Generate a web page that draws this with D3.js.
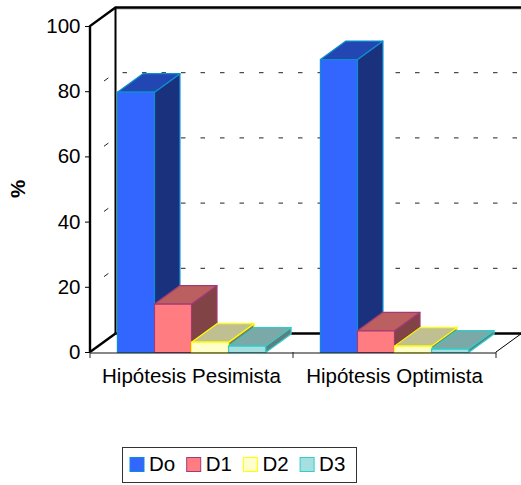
<!DOCTYPE html>
<html lang="en">
<head>
    <meta charset="UTF-8">
    <title>Hipótesis</title>
    <script src="https://cdn.jsdelivr.net/npm/d3@7"></script>
    <style>
        html, body { margin: 0; padding: 0; background: #fff; }
        svg { display: block; }
        text { font-family: "Liberation Sans", Arial, sans-serif; fill: #000; }
    </style>
</head>
<body>
    <script>
        // valores
        var categories = ["Hipótesis Pesimista", "Hipótesis Optimista"];
        var seriesNames = ["Do", "D1", "D2", "D3"];
        var doValues = [79.7, 89.7];
        var d1Values = [14.7, 6.5];
        var d2Values = [3, 1.8];
        var d3Values = [1.8, 0.9];
        var yTicks = [0, 20, 40, 60, 80, 100];

        var seriesValues = [doValues, d1Values, d2Values, d3Values];

        // colores: frente, arriba, lado, borde
        var faceColors = ["#3366ff", "#ff7c80", "#ffffcc", "#a5dfdf"];
        var topColors = ["#2347b2", "#bb5f60", "#c0bf92", "#7aa9a7"];
        var sideColors = ["#1a327e", "#814345", "#7f7f66", "#5f7f7f"];
        var edgeColors = ["#0b8fd0", "#a33a78", "#ffff00", "#33cccc"];

        var width = 521;
        var height = 485;
        var depthX = 25.5; // profundidad del 3D
        var depthY = -18.5;

        var svg = d3.select("body")
            .append("svg")
            .attr("width", width)
            .attr("height", height);

        var x = d3.scaleBand().domain(categories).range([90, 496]);
        var y = d3.scaleLinear().domain([0, 100]).range([352, 26]);
        var inner = d3.scaleBand().domain(seriesNames)
            .range([0, x.bandwidth()])
            .paddingInner(0)
            .paddingOuter(0.74);

        function pts(list) {
            return list.map(function (p) { return p.join(","); }).join(" ");
        }

        // lineas de rejilla en la pared del fondo
        yTicks.slice(1, -1).forEach(function (t) {
            svg.append("line")
                .attr("x1", 90 + depthX)
                .attr("x2", 496 + depthX)
                .attr("y1", y(t) + depthY)
                .attr("y2", y(t) + depthY)
                .attr("stroke", "#222")
                .attr("stroke-width", 1)
                .attr("stroke-dasharray", "4.5,15")
                .attr("stroke-dashoffset", -7);
            // pedacito en la pared lateral
            svg.append("line")
                .attr("x1", 90 + depthX * 0.55)
                .attr("x2", 90 + depthX * 0.72)
                .attr("y1", y(t) + depthY * 0.55)
                .attr("y2", y(t) + depthY * 0.72)
                .attr("stroke", "#222");
        });

        // paredes
        var wall = svg.append("g").attr("fill", "none");
        wall.append("path")
            .attr("d", "M" + (90 + depthX) + "," + (y(0) + depthY) + "H" + (496 + depthX))
            .attr("stroke", "#000").attr("stroke-width", 2.4);
        wall.append("path")
            .attr("d", "M" + (90 + depthX) + "," + (y(100) + depthY + 1.5) + "H" + (496 + depthX))
            .attr("stroke", "#aaa").attr("stroke-width", 1);
        wall.append("path")
            .attr("d", "M" + pts([[90, y(0)], [90, y(100)], [90 + depthX, y(100) + depthY], [496 + depthX, y(100) + depthY]]))
            .attr("stroke", "#000").attr("stroke-width", 2.4);
        wall.append("path")
            .attr("d", "M" + pts([[90 + depthX, y(100) + depthY], [90 + depthX, y(0) + depthY]]))
            .attr("stroke", "#000").attr("stroke-width", 2);
        wall.append("path")
            .attr("d", "M" + pts([[90, y(0)], [90 + depthX, y(0) + depthY]]))
            .attr("stroke", "#000").attr("stroke-width", 2.4);
        wall.append("path")
            .attr("d", "M" + pts([[496, y(0)], [496 + depthX, y(0) + depthY]]))
            .attr("stroke", "#000").attr("stroke-width", 1);

        // barras, de izquierda a derecha
        categories.forEach(function (cat, c) {
            seriesNames.forEach(function (name, s) {
                var v = seriesValues[s][c];
                var x0 = x(cat) + inner(name);
                var x1 = x0 + inner.bandwidth();
                var yt = y(v);
                var yb = y(0) + 0.5;
                var g = svg.append("g")
                    .attr("stroke", edgeColors[s])
                    .attr("stroke-width", 1.2)
                    .attr("stroke-linejoin", "round");
                g.append("polygon")
                    .attr("points", pts([[x1, yb], [x1 + depthX, yb + depthY], [x1 + depthX, yt + depthY], [x1, yt]]))
                    .attr("fill", sideColors[s]);
                g.append("polygon")
                    .attr("points", pts([[x0, yt], [x0 + depthX, yt + depthY], [x1 + depthX, yt + depthY], [x1, yt]]))
                    .attr("fill", topColors[s]);
                g.append("rect")
                    .attr("x", x0)
                    .attr("y", yt)
                    .attr("width", x1 - x0)
                    .attr("height", yb - yt)
                    .attr("fill", faceColors[s]);
            });
        });

        // ejes
        var yAxis = d3.axisLeft(y).tickValues(yTicks).tickSize(5).tickPadding(4.5);
        var gy = svg.append("g")
            .attr("transform", "translate(90,0)")
            .call(yAxis);
        gy.select(".domain").remove();
        gy.selectAll("line").attr("stroke", "#000");
        gy.selectAll("text")
            .style("font-size", "20.5px")
            .style("font-family", "'Liberation Sans', Arial, sans-serif")
            .attr("fill", "#000");

        svg.append("line")
            .attr("x1", 90).attr("x2", 496)
            .attr("y1", y(0) + 1).attr("y2", y(0) + 1)
            .attr("stroke", "#111");
        // marcas entre categorias
        [x(categories[0]), x(categories[1]), x(categories[1]) + x.bandwidth()].forEach(function (t) {
            svg.append("line")
                .attr("x1", t).attr("x2", t)
                .attr("y1", y(0)).attr("y2", y(0) + 6)
                .attr("stroke", "#222");
        });
        categories.forEach(function (cat) {
            svg.append("text")
                .attr("x", x(cat) + x.bandwidth() / 2)
                .attr("y", 383)
                .attr("text-anchor", "middle")
                .style("font-size", "20.5px")
                .text(cat);
        });

        svg.append("text")
            .attr("transform", "translate(24.5,189) rotate(-90)")
            .attr("text-anchor", "middle")
            .style("font-size", "20.5px")
            .style("font-weight", "bold")
            .text("%");

        // leyenda
        var legend = svg.append("g").attr("transform", "translate(122,447)");
        legend.append("rect")
            .attr("x", 0.5).attr("y", 0.5)
            .attr("width", 234).attr("height", 35)
            .attr("fill", "#fff")
            .attr("stroke", "#333");
        seriesNames.forEach(function (name, s) {
            var it = legend.append("g").attr("transform", "translate(" + (7.5 + s * 56.7) + ",0)");
            it.append("rect")
                .attr("x", 0.5).attr("y", 10.5)
                .attr("width", 14).attr("height", 14)
                .attr("fill", faceColors[s])
                .attr("stroke", edgeColors[s]);
            it.append("text")
                .attr("x", 19.5)
                .attr("y", 23.5)
                .style("font-size", "20.5px")
                .text(name);
        });
    </script>
</body>
</html>
